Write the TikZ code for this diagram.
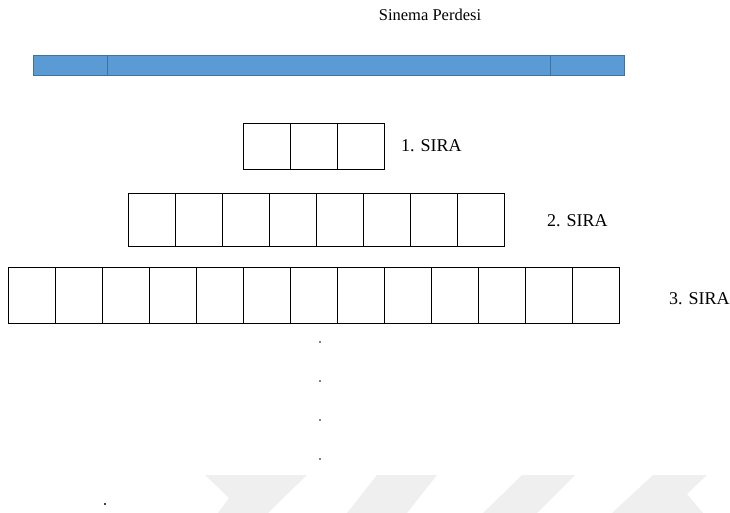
\documentclass[tikz,border=0pt]{standalone}
\usepackage{fontspec}
\setmainfont{Liberation Serif}
\definecolor{screenfill}{HTML}{5B9BD5}
\definecolor{screenline}{HTML}{41719C}
\definecolor{markgray}{HTML}{EFEFEF}
\begin{document}
\begin{tikzpicture}[x=1pt,y=-1pt,
  seat/.style={draw=black, line width=0.8pt, inner sep=0pt, minimum width=47pt, anchor=north west},
  screen/.style={draw=screenline, fill=screenfill, line width=1pt, inner sep=0pt, minimum height=20pt, anchor=north west},
  rowlabel/.style={anchor=west, inner sep=0pt, font=\fontsize{18}{20}\selectfont},
  dot/.style={circle, fill=black, inner sep=0pt, minimum size=2.2pt}]
  \useasboundingbox (0,0) rectangle (730,513);

  % background emblem shapes along the bottom edge
  \fill[markgray] (205,475) -- (307,475) -- (268,513) -- (218,513) -- (229,498) -- cycle;
  \fill[markgray] (377,475) -- (437,475) -- (407,513) -- (347,513) -- cycle;
  \fill[markgray] (522,475) -- (575,475) -- (537,513) -- (483,513) -- cycle;
  \fill[markgray] (653,475) -- (707,475) -- (687,494) -- (703,513) -- (612,513) -- cycle;

  % title
  \node[anchor=center, inner sep=0pt, font=\fontsize{16.5}{19}\selectfont] (title) at (430,15) {Sinema Perdesi};

  % screen bar
  \node[screen, minimum width=74pt]  (scrL) at (33,55) {};
  \node[screen, minimum width=443pt] (scrM) at (107,55) {};
  \node[screen, minimum width=74pt]  (scrR) at (550,55) {};

  % row 1
  \foreach \i in {1,...,3}
    \node[seat, minimum height=46pt] (ra\i) at ({243+(\i-1)*47},123) {};
  \node[rowlabel] (la) at (401,146) {1. SIRA};

  % row 2
  \foreach \i in {1,...,8}
    \node[seat, minimum height=53pt] (rb\i) at ({128+(\i-1)*47},193) {};
  \node[rowlabel] (lb) at (547,221) {2. SIRA};

  % row 3
  \foreach \i in {1,...,13}
    \node[seat, minimum height=56pt] (rc\i) at ({8+(\i-1)*47},267) {};
  \node[rowlabel] (lc) at (669,299) {3. SIRA};

  % continuation dots
  \node[dot, minimum size=1.8pt] (d1) at (320,342) {};
  \node[dot, minimum size=1.8pt] (d2) at (320,381) {};
  \node[dot, minimum size=1.8pt] (d3) at (320,420) {};
  \node[dot, minimum size=1.8pt] (d4) at (320,459) {};
  \node[dot] (d5) at (105,504) {};
\end{tikzpicture}
\end{document}
